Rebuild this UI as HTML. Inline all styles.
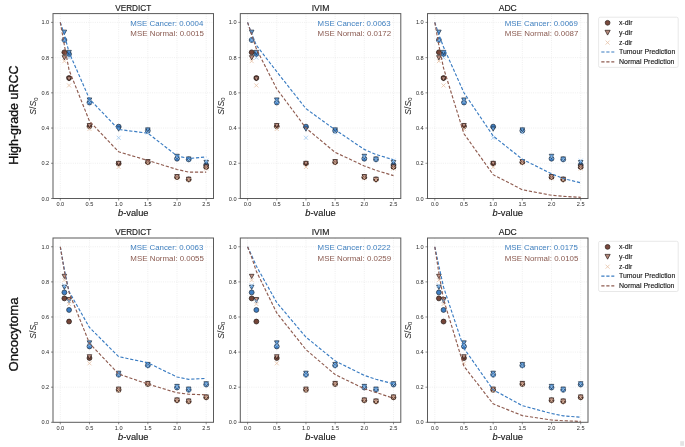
<!DOCTYPE html>
<html><head><meta charset="utf-8"><style>
html,body{margin:0;padding:0;background:#fff;}
body{width:685px;height:447px;overflow:hidden;}
svg{display:block;font-family:'Liberation Sans', sans-serif;filter:blur(0.35px);}
</style></head><body>
<svg width="685" height="447" viewBox="0 0 685 447">
<rect width="685" height="447" fill="#fff"/>
<line x1="60.30" y1="13.60" x2="60.30" y2="198.50" stroke="#e4e4e4" stroke-width="0.6" stroke-dasharray="1 1.2"/>
<line x1="89.48" y1="13.60" x2="89.48" y2="198.50" stroke="#e4e4e4" stroke-width="0.6" stroke-dasharray="1 1.2"/>
<line x1="118.66" y1="13.60" x2="118.66" y2="198.50" stroke="#e4e4e4" stroke-width="0.6" stroke-dasharray="1 1.2"/>
<line x1="147.84" y1="13.60" x2="147.84" y2="198.50" stroke="#e4e4e4" stroke-width="0.6" stroke-dasharray="1 1.2"/>
<line x1="177.02" y1="13.60" x2="177.02" y2="198.50" stroke="#e4e4e4" stroke-width="0.6" stroke-dasharray="1 1.2"/>
<line x1="206.20" y1="13.60" x2="206.20" y2="198.50" stroke="#e4e4e4" stroke-width="0.6" stroke-dasharray="1 1.2"/>
<line x1="53.00" y1="163.28" x2="213.50" y2="163.28" stroke="#e4e4e4" stroke-width="0.6" stroke-dasharray="1 1.2"/>
<line x1="53.00" y1="128.06" x2="213.50" y2="128.06" stroke="#e4e4e4" stroke-width="0.6" stroke-dasharray="1 1.2"/>
<line x1="53.00" y1="92.84" x2="213.50" y2="92.84" stroke="#e4e4e4" stroke-width="0.6" stroke-dasharray="1 1.2"/>
<line x1="53.00" y1="57.62" x2="213.50" y2="57.62" stroke="#e4e4e4" stroke-width="0.6" stroke-dasharray="1 1.2"/>
<line x1="53.00" y1="22.40" x2="213.50" y2="22.40" stroke="#e4e4e4" stroke-width="0.6" stroke-dasharray="1 1.2"/>
<circle cx="64.38" cy="40.01" r="2.45" fill="#3f7fc4" stroke="#1b2a3a" stroke-width="0.7"/>
<circle cx="64.38" cy="52.34" r="2.45" fill="#744538" stroke="#1e1210" stroke-width="0.7"/>
<polygon points="62.08,30.14 66.68,30.14 64.38,34.39" fill="#62a0e0" stroke="#1b2a3a" stroke-width="0.7"/>
<polygon points="62.08,55.67 66.68,55.67 64.38,59.92" fill="#c29486" stroke="#2a1a16" stroke-width="0.7"/>
<path d="M62.38 38.01L66.38 42.01M62.38 42.01L66.38 38.01" stroke="#9cc6f0" stroke-width="0.8" fill="none"/>
<path d="M62.38 59.15L66.38 63.15M62.38 63.15L66.38 59.15" stroke="#e6c2a6" stroke-width="0.8" fill="none"/>
<circle cx="69.05" cy="54.10" r="2.45" fill="#3f7fc4" stroke="#1b2a3a" stroke-width="0.7"/>
<circle cx="69.05" cy="78.05" r="2.45" fill="#744538" stroke="#1e1210" stroke-width="0.7"/>
<polygon points="66.75,50.39 71.35,50.39 69.05,54.64" fill="#62a0e0" stroke="#1b2a3a" stroke-width="0.7"/>
<polygon points="66.75,76.80 71.35,76.80 69.05,81.06" fill="#c29486" stroke="#2a1a16" stroke-width="0.7"/>
<path d="M67.05 55.62L71.05 59.62M67.05 59.62L71.05 55.62" stroke="#9cc6f0" stroke-width="0.8" fill="none"/>
<path d="M67.05 83.45L71.05 87.45M67.05 87.45L71.05 83.45" stroke="#e6c2a6" stroke-width="0.8" fill="none"/>
<circle cx="89.48" cy="102.53" r="2.45" fill="#3f7fc4" stroke="#1b2a3a" stroke-width="0.7"/>
<circle cx="89.48" cy="126.30" r="2.45" fill="#744538" stroke="#1e1210" stroke-width="0.7"/>
<polygon points="87.18,97.93 91.78,97.93 89.48,102.19" fill="#62a0e0" stroke="#1b2a3a" stroke-width="0.7"/>
<polygon points="87.18,123.47 91.78,123.47 89.48,127.72" fill="#c29486" stroke="#2a1a16" stroke-width="0.7"/>
<path d="M87.48 99.65L91.48 103.65M87.48 103.65L91.48 99.65" stroke="#9cc6f0" stroke-width="0.8" fill="none"/>
<path d="M87.48 126.94L91.48 130.94M87.48 130.94L91.48 126.94" stroke="#e6c2a6" stroke-width="0.8" fill="none"/>
<circle cx="118.66" cy="126.65" r="2.45" fill="#3f7fc4" stroke="#1b2a3a" stroke-width="0.7"/>
<circle cx="118.66" cy="163.63" r="2.45" fill="#744538" stroke="#1e1210" stroke-width="0.7"/>
<polygon points="116.36,126.99 120.96,126.99 118.66,131.24" fill="#62a0e0" stroke="#1b2a3a" stroke-width="0.7"/>
<polygon points="116.36,161.33 120.96,161.33 118.66,165.58" fill="#c29486" stroke="#2a1a16" stroke-width="0.7"/>
<path d="M116.66 135.75L120.66 139.75M116.66 139.75L120.66 135.75" stroke="#9cc6f0" stroke-width="0.8" fill="none"/>
<path d="M116.66 164.98L120.66 168.98M116.66 168.98L120.66 164.98" stroke="#e6c2a6" stroke-width="0.8" fill="none"/>
<circle cx="147.84" cy="130.70" r="2.45" fill="#3f7fc4" stroke="#1b2a3a" stroke-width="0.7"/>
<circle cx="147.84" cy="162.22" r="2.45" fill="#744538" stroke="#1e1210" stroke-width="0.7"/>
<polygon points="145.54,127.87 150.14,127.87 147.84,132.12" fill="#62a0e0" stroke="#1b2a3a" stroke-width="0.7"/>
<polygon points="145.54,159.56 150.14,159.56 147.84,163.82" fill="#c29486" stroke="#2a1a16" stroke-width="0.7"/>
<path d="M145.84 130.46L149.84 134.46M145.84 134.46L149.84 130.46" stroke="#9cc6f0" stroke-width="0.8" fill="none"/>
<path d="M145.84 161.28L149.84 165.28M145.84 165.28L149.84 161.28" stroke="#e6c2a6" stroke-width="0.8" fill="none"/>
<circle cx="177.02" cy="158.70" r="2.45" fill="#3f7fc4" stroke="#1b2a3a" stroke-width="0.7"/>
<circle cx="177.02" cy="177.19" r="2.45" fill="#744538" stroke="#1e1210" stroke-width="0.7"/>
<polygon points="174.72,154.28 179.32,154.28 177.02,158.54" fill="#62a0e0" stroke="#1b2a3a" stroke-width="0.7"/>
<polygon points="174.72,174.53 179.32,174.53 177.02,178.79" fill="#c29486" stroke="#2a1a16" stroke-width="0.7"/>
<path d="M175.02 155.12L179.02 159.12M175.02 159.12L179.02 155.12" stroke="#9cc6f0" stroke-width="0.8" fill="none"/>
<path d="M175.02 176.25L179.02 180.25M175.02 180.25L179.02 176.25" stroke="#e6c2a6" stroke-width="0.8" fill="none"/>
<circle cx="188.70" cy="159.41" r="2.45" fill="#3f7fc4" stroke="#1b2a3a" stroke-width="0.7"/>
<circle cx="188.70" cy="179.48" r="2.45" fill="#744538" stroke="#1e1210" stroke-width="0.7"/>
<polygon points="186.40,156.92 191.00,156.92 188.70,161.18" fill="#62a0e0" stroke="#1b2a3a" stroke-width="0.7"/>
<polygon points="186.40,177.17 191.00,177.17 188.70,181.43" fill="#c29486" stroke="#2a1a16" stroke-width="0.7"/>
<path d="M186.70 157.76L190.70 161.76M186.70 161.76L190.70 157.76" stroke="#9cc6f0" stroke-width="0.8" fill="none"/>
<path d="M186.70 178.01L190.70 182.01M186.70 182.01L190.70 178.01" stroke="#e6c2a6" stroke-width="0.8" fill="none"/>
<circle cx="206.20" cy="165.04" r="2.45" fill="#3f7fc4" stroke="#1b2a3a" stroke-width="0.7"/>
<circle cx="206.20" cy="167.16" r="2.45" fill="#744538" stroke="#1e1210" stroke-width="0.7"/>
<polygon points="203.90,160.45 208.50,160.45 206.20,164.70" fill="#62a0e0" stroke="#1b2a3a" stroke-width="0.7"/>
<polygon points="203.90,164.85 208.50,164.85 206.20,169.10" fill="#c29486" stroke="#2a1a16" stroke-width="0.7"/>
<path d="M204.20 158.64L208.20 162.64M204.20 162.64L208.20 158.64" stroke="#9cc6f0" stroke-width="0.8" fill="none"/>
<path d="M204.20 166.56L208.20 170.56M204.20 170.56L208.20 166.56" stroke="#e6c2a6" stroke-width="0.8" fill="none"/>
<polyline points="60.30,22.40 64.38,34.73 69.05,52.34 89.48,99.01 118.66,129.47 147.84,133.17 177.02,155.88 188.70,158.53 206.20,156.94" fill="none" stroke="#3a7cc2" stroke-width="1.15" stroke-dasharray="3.2 1.8"/>
<polyline points="60.30,22.40 64.38,45.30 69.05,69.95 89.48,121.19 118.66,151.83 147.84,160.46 177.02,169.44 188.70,172.09 206.20,172.09" fill="none" stroke="#8f5c50" stroke-width="1.15" stroke-dasharray="3.2 1.8"/>
<rect x="53.00" y="13.60" width="160.50" height="184.90" fill="none" stroke="#5a5a5a" stroke-width="1"/>
<line x1="60.30" y1="198.50" x2="60.30" y2="200.50" stroke="#444" stroke-width="0.6"/>
<text x="60.30" y="206.00" font-size="5.6" fill="#2a2a2a" text-anchor="middle" >0.0</text>
<line x1="89.48" y1="198.50" x2="89.48" y2="200.50" stroke="#444" stroke-width="0.6"/>
<text x="89.48" y="206.00" font-size="5.6" fill="#2a2a2a" text-anchor="middle" >0.5</text>
<line x1="118.66" y1="198.50" x2="118.66" y2="200.50" stroke="#444" stroke-width="0.6"/>
<text x="118.66" y="206.00" font-size="5.6" fill="#2a2a2a" text-anchor="middle" >1.0</text>
<line x1="147.84" y1="198.50" x2="147.84" y2="200.50" stroke="#444" stroke-width="0.6"/>
<text x="147.84" y="206.00" font-size="5.6" fill="#2a2a2a" text-anchor="middle" >1.5</text>
<line x1="177.02" y1="198.50" x2="177.02" y2="200.50" stroke="#444" stroke-width="0.6"/>
<text x="177.02" y="206.00" font-size="5.6" fill="#2a2a2a" text-anchor="middle" >2.0</text>
<line x1="206.20" y1="198.50" x2="206.20" y2="200.50" stroke="#444" stroke-width="0.6"/>
<text x="206.20" y="206.00" font-size="5.6" fill="#2a2a2a" text-anchor="middle" >2.5</text>
<line x1="51.00" y1="198.50" x2="53.00" y2="198.50" stroke="#444" stroke-width="0.6"/>
<text x="49.20" y="200.50" font-size="5.6" fill="#2a2a2a" text-anchor="end" >0.0</text>
<line x1="51.00" y1="163.28" x2="53.00" y2="163.28" stroke="#444" stroke-width="0.6"/>
<text x="49.20" y="165.28" font-size="5.6" fill="#2a2a2a" text-anchor="end" >0.2</text>
<line x1="51.00" y1="128.06" x2="53.00" y2="128.06" stroke="#444" stroke-width="0.6"/>
<text x="49.20" y="130.06" font-size="5.6" fill="#2a2a2a" text-anchor="end" >0.4</text>
<line x1="51.00" y1="92.84" x2="53.00" y2="92.84" stroke="#444" stroke-width="0.6"/>
<text x="49.20" y="94.84" font-size="5.6" fill="#2a2a2a" text-anchor="end" >0.6</text>
<line x1="51.00" y1="57.62" x2="53.00" y2="57.62" stroke="#444" stroke-width="0.6"/>
<text x="49.20" y="59.62" font-size="5.6" fill="#2a2a2a" text-anchor="end" >0.8</text>
<line x1="51.00" y1="22.40" x2="53.00" y2="22.40" stroke="#444" stroke-width="0.6"/>
<text x="49.20" y="24.40" font-size="5.6" fill="#2a2a2a" text-anchor="end" >1.0</text>
<text x="133.25" y="10.90" font-size="8.6" fill="#1a1a1a" text-anchor="middle" textLength="36.0" lengthAdjust="spacingAndGlyphs" stroke="#1a1a1a" stroke-width="0.15">VERDICT</text>
<text x="130.30" y="25.60" font-size="7.7" fill="#3e7fbf" text-anchor="start" textLength="73.0" lengthAdjust="spacingAndGlyphs" >MSE Cancer: 0.0004</text>
<text x="130.30" y="36.30" font-size="7.7" fill="#8a5a50" text-anchor="start" textLength="73.6" lengthAdjust="spacingAndGlyphs" >MSE Normal: 0.0015</text>
<text x="133.25" y="215.80" font-size="9.2" fill="#1a1a1a" stroke="#1a1a1a" stroke-width="0.15" text-anchor="middle" textLength="30.4" lengthAdjust="spacingAndGlyphs"><tspan font-style="italic">b</tspan>-value</text>
<text transform="translate(36.20,106.05) rotate(-90)" font-size="8.6" fill="#1a1a1a" text-anchor="middle"><tspan font-style="italic">S</tspan>/<tspan font-style="italic">S</tspan><tspan font-size="6" dy="1.6">0</tspan></text>
<line x1="247.60" y1="13.60" x2="247.60" y2="198.50" stroke="#e4e4e4" stroke-width="0.6" stroke-dasharray="1 1.2"/>
<line x1="276.78" y1="13.60" x2="276.78" y2="198.50" stroke="#e4e4e4" stroke-width="0.6" stroke-dasharray="1 1.2"/>
<line x1="305.96" y1="13.60" x2="305.96" y2="198.50" stroke="#e4e4e4" stroke-width="0.6" stroke-dasharray="1 1.2"/>
<line x1="335.14" y1="13.60" x2="335.14" y2="198.50" stroke="#e4e4e4" stroke-width="0.6" stroke-dasharray="1 1.2"/>
<line x1="364.32" y1="13.60" x2="364.32" y2="198.50" stroke="#e4e4e4" stroke-width="0.6" stroke-dasharray="1 1.2"/>
<line x1="393.50" y1="13.60" x2="393.50" y2="198.50" stroke="#e4e4e4" stroke-width="0.6" stroke-dasharray="1 1.2"/>
<line x1="240.30" y1="163.28" x2="400.80" y2="163.28" stroke="#e4e4e4" stroke-width="0.6" stroke-dasharray="1 1.2"/>
<line x1="240.30" y1="128.06" x2="400.80" y2="128.06" stroke="#e4e4e4" stroke-width="0.6" stroke-dasharray="1 1.2"/>
<line x1="240.30" y1="92.84" x2="400.80" y2="92.84" stroke="#e4e4e4" stroke-width="0.6" stroke-dasharray="1 1.2"/>
<line x1="240.30" y1="57.62" x2="400.80" y2="57.62" stroke="#e4e4e4" stroke-width="0.6" stroke-dasharray="1 1.2"/>
<line x1="240.30" y1="22.40" x2="400.80" y2="22.40" stroke="#e4e4e4" stroke-width="0.6" stroke-dasharray="1 1.2"/>
<circle cx="251.68" cy="40.01" r="2.45" fill="#3f7fc4" stroke="#1b2a3a" stroke-width="0.7"/>
<circle cx="251.68" cy="52.34" r="2.45" fill="#744538" stroke="#1e1210" stroke-width="0.7"/>
<polygon points="249.38,30.14 253.98,30.14 251.68,34.39" fill="#62a0e0" stroke="#1b2a3a" stroke-width="0.7"/>
<polygon points="249.38,55.67 253.98,55.67 251.68,59.92" fill="#c29486" stroke="#2a1a16" stroke-width="0.7"/>
<path d="M249.68 38.01L253.68 42.01M249.68 42.01L253.68 38.01" stroke="#9cc6f0" stroke-width="0.8" fill="none"/>
<path d="M249.68 59.15L253.68 63.15M249.68 63.15L253.68 59.15" stroke="#e6c2a6" stroke-width="0.8" fill="none"/>
<circle cx="256.35" cy="54.10" r="2.45" fill="#3f7fc4" stroke="#1b2a3a" stroke-width="0.7"/>
<circle cx="256.35" cy="78.05" r="2.45" fill="#744538" stroke="#1e1210" stroke-width="0.7"/>
<polygon points="254.05,50.39 258.65,50.39 256.35,54.64" fill="#62a0e0" stroke="#1b2a3a" stroke-width="0.7"/>
<polygon points="254.05,76.80 258.65,76.80 256.35,81.06" fill="#c29486" stroke="#2a1a16" stroke-width="0.7"/>
<path d="M254.35 55.62L258.35 59.62M254.35 59.62L258.35 55.62" stroke="#9cc6f0" stroke-width="0.8" fill="none"/>
<path d="M254.35 83.45L258.35 87.45M254.35 87.45L258.35 83.45" stroke="#e6c2a6" stroke-width="0.8" fill="none"/>
<circle cx="276.78" cy="102.53" r="2.45" fill="#3f7fc4" stroke="#1b2a3a" stroke-width="0.7"/>
<circle cx="276.78" cy="126.30" r="2.45" fill="#744538" stroke="#1e1210" stroke-width="0.7"/>
<polygon points="274.48,97.93 279.08,97.93 276.78,102.19" fill="#62a0e0" stroke="#1b2a3a" stroke-width="0.7"/>
<polygon points="274.48,123.47 279.08,123.47 276.78,127.72" fill="#c29486" stroke="#2a1a16" stroke-width="0.7"/>
<path d="M274.78 99.65L278.78 103.65M274.78 103.65L278.78 99.65" stroke="#9cc6f0" stroke-width="0.8" fill="none"/>
<path d="M274.78 126.94L278.78 130.94M274.78 130.94L278.78 126.94" stroke="#e6c2a6" stroke-width="0.8" fill="none"/>
<circle cx="305.96" cy="126.65" r="2.45" fill="#3f7fc4" stroke="#1b2a3a" stroke-width="0.7"/>
<circle cx="305.96" cy="163.63" r="2.45" fill="#744538" stroke="#1e1210" stroke-width="0.7"/>
<polygon points="303.66,126.99 308.26,126.99 305.96,131.24" fill="#62a0e0" stroke="#1b2a3a" stroke-width="0.7"/>
<polygon points="303.66,161.33 308.26,161.33 305.96,165.58" fill="#c29486" stroke="#2a1a16" stroke-width="0.7"/>
<path d="M303.96 135.75L307.96 139.75M303.96 139.75L307.96 135.75" stroke="#9cc6f0" stroke-width="0.8" fill="none"/>
<path d="M303.96 164.98L307.96 168.98M303.96 168.98L307.96 164.98" stroke="#e6c2a6" stroke-width="0.8" fill="none"/>
<circle cx="335.14" cy="130.70" r="2.45" fill="#3f7fc4" stroke="#1b2a3a" stroke-width="0.7"/>
<circle cx="335.14" cy="162.22" r="2.45" fill="#744538" stroke="#1e1210" stroke-width="0.7"/>
<polygon points="332.84,127.87 337.44,127.87 335.14,132.12" fill="#62a0e0" stroke="#1b2a3a" stroke-width="0.7"/>
<polygon points="332.84,159.56 337.44,159.56 335.14,163.82" fill="#c29486" stroke="#2a1a16" stroke-width="0.7"/>
<path d="M333.14 130.46L337.14 134.46M333.14 134.46L337.14 130.46" stroke="#9cc6f0" stroke-width="0.8" fill="none"/>
<path d="M333.14 161.28L337.14 165.28M333.14 165.28L337.14 161.28" stroke="#e6c2a6" stroke-width="0.8" fill="none"/>
<circle cx="364.32" cy="158.70" r="2.45" fill="#3f7fc4" stroke="#1b2a3a" stroke-width="0.7"/>
<circle cx="364.32" cy="177.19" r="2.45" fill="#744538" stroke="#1e1210" stroke-width="0.7"/>
<polygon points="362.02,154.28 366.62,154.28 364.32,158.54" fill="#62a0e0" stroke="#1b2a3a" stroke-width="0.7"/>
<polygon points="362.02,174.53 366.62,174.53 364.32,178.79" fill="#c29486" stroke="#2a1a16" stroke-width="0.7"/>
<path d="M362.32 155.12L366.32 159.12M362.32 159.12L366.32 155.12" stroke="#9cc6f0" stroke-width="0.8" fill="none"/>
<path d="M362.32 176.25L366.32 180.25M362.32 180.25L366.32 176.25" stroke="#e6c2a6" stroke-width="0.8" fill="none"/>
<circle cx="376.00" cy="159.41" r="2.45" fill="#3f7fc4" stroke="#1b2a3a" stroke-width="0.7"/>
<circle cx="376.00" cy="179.48" r="2.45" fill="#744538" stroke="#1e1210" stroke-width="0.7"/>
<polygon points="373.70,156.92 378.30,156.92 376.00,161.18" fill="#62a0e0" stroke="#1b2a3a" stroke-width="0.7"/>
<polygon points="373.70,177.17 378.30,177.17 376.00,181.43" fill="#c29486" stroke="#2a1a16" stroke-width="0.7"/>
<path d="M374.00 157.76L378.00 161.76M374.00 161.76L378.00 157.76" stroke="#9cc6f0" stroke-width="0.8" fill="none"/>
<path d="M374.00 178.01L378.00 182.01M374.00 182.01L378.00 178.01" stroke="#e6c2a6" stroke-width="0.8" fill="none"/>
<circle cx="393.50" cy="165.04" r="2.45" fill="#3f7fc4" stroke="#1b2a3a" stroke-width="0.7"/>
<circle cx="393.50" cy="167.16" r="2.45" fill="#744538" stroke="#1e1210" stroke-width="0.7"/>
<polygon points="391.20,160.45 395.80,160.45 393.50,164.70" fill="#62a0e0" stroke="#1b2a3a" stroke-width="0.7"/>
<polygon points="391.20,164.85 395.80,164.85 393.50,169.10" fill="#c29486" stroke="#2a1a16" stroke-width="0.7"/>
<path d="M391.50 158.64L395.50 162.64M391.50 162.64L395.50 158.64" stroke="#9cc6f0" stroke-width="0.8" fill="none"/>
<path d="M391.50 166.56L395.50 170.56M391.50 170.56L395.50 166.56" stroke="#e6c2a6" stroke-width="0.8" fill="none"/>
<polyline points="247.60,22.40 251.68,33.85 256.35,45.30 276.78,71.71 305.96,108.69 335.14,129.82 364.32,149.37 376.00,154.48 393.50,159.76" fill="none" stroke="#3a7cc2" stroke-width="1.15" stroke-dasharray="3.2 1.8"/>
<polyline points="247.60,22.40 251.68,34.73 256.35,48.82 276.78,88.97 305.96,128.06 335.14,152.36 364.32,165.92 376.00,170.32 393.50,175.61" fill="none" stroke="#8f5c50" stroke-width="1.15" stroke-dasharray="3.2 1.8"/>
<rect x="240.30" y="13.60" width="160.50" height="184.90" fill="none" stroke="#5a5a5a" stroke-width="1"/>
<line x1="247.60" y1="198.50" x2="247.60" y2="200.50" stroke="#444" stroke-width="0.6"/>
<text x="247.60" y="206.00" font-size="5.6" fill="#2a2a2a" text-anchor="middle" >0.0</text>
<line x1="276.78" y1="198.50" x2="276.78" y2="200.50" stroke="#444" stroke-width="0.6"/>
<text x="276.78" y="206.00" font-size="5.6" fill="#2a2a2a" text-anchor="middle" >0.5</text>
<line x1="305.96" y1="198.50" x2="305.96" y2="200.50" stroke="#444" stroke-width="0.6"/>
<text x="305.96" y="206.00" font-size="5.6" fill="#2a2a2a" text-anchor="middle" >1.0</text>
<line x1="335.14" y1="198.50" x2="335.14" y2="200.50" stroke="#444" stroke-width="0.6"/>
<text x="335.14" y="206.00" font-size="5.6" fill="#2a2a2a" text-anchor="middle" >1.5</text>
<line x1="364.32" y1="198.50" x2="364.32" y2="200.50" stroke="#444" stroke-width="0.6"/>
<text x="364.32" y="206.00" font-size="5.6" fill="#2a2a2a" text-anchor="middle" >2.0</text>
<line x1="393.50" y1="198.50" x2="393.50" y2="200.50" stroke="#444" stroke-width="0.6"/>
<text x="393.50" y="206.00" font-size="5.6" fill="#2a2a2a" text-anchor="middle" >2.5</text>
<line x1="238.30" y1="198.50" x2="240.30" y2="198.50" stroke="#444" stroke-width="0.6"/>
<text x="236.50" y="200.50" font-size="5.6" fill="#2a2a2a" text-anchor="end" >0.0</text>
<line x1="238.30" y1="163.28" x2="240.30" y2="163.28" stroke="#444" stroke-width="0.6"/>
<text x="236.50" y="165.28" font-size="5.6" fill="#2a2a2a" text-anchor="end" >0.2</text>
<line x1="238.30" y1="128.06" x2="240.30" y2="128.06" stroke="#444" stroke-width="0.6"/>
<text x="236.50" y="130.06" font-size="5.6" fill="#2a2a2a" text-anchor="end" >0.4</text>
<line x1="238.30" y1="92.84" x2="240.30" y2="92.84" stroke="#444" stroke-width="0.6"/>
<text x="236.50" y="94.84" font-size="5.6" fill="#2a2a2a" text-anchor="end" >0.6</text>
<line x1="238.30" y1="57.62" x2="240.30" y2="57.62" stroke="#444" stroke-width="0.6"/>
<text x="236.50" y="59.62" font-size="5.6" fill="#2a2a2a" text-anchor="end" >0.8</text>
<line x1="238.30" y1="22.40" x2="240.30" y2="22.40" stroke="#444" stroke-width="0.6"/>
<text x="236.50" y="24.40" font-size="5.6" fill="#2a2a2a" text-anchor="end" >1.0</text>
<text x="320.55" y="10.90" font-size="8.6" fill="#1a1a1a" text-anchor="middle" stroke="#1a1a1a" stroke-width="0.15">IVIM</text>
<text x="317.60" y="25.60" font-size="7.7" fill="#3e7fbf" text-anchor="start" textLength="73.0" lengthAdjust="spacingAndGlyphs" >MSE Cancer: 0.0063</text>
<text x="317.60" y="36.30" font-size="7.7" fill="#8a5a50" text-anchor="start" textLength="73.6" lengthAdjust="spacingAndGlyphs" >MSE Normal: 0.0172</text>
<text x="320.55" y="215.80" font-size="9.2" fill="#1a1a1a" stroke="#1a1a1a" stroke-width="0.15" text-anchor="middle" textLength="30.4" lengthAdjust="spacingAndGlyphs"><tspan font-style="italic">b</tspan>-value</text>
<text transform="translate(223.50,106.05) rotate(-90)" font-size="8.6" fill="#1a1a1a" text-anchor="middle"><tspan font-style="italic">S</tspan>/<tspan font-style="italic">S</tspan><tspan font-size="6" dy="1.6">0</tspan></text>
<line x1="434.80" y1="13.60" x2="434.80" y2="198.50" stroke="#e4e4e4" stroke-width="0.6" stroke-dasharray="1 1.2"/>
<line x1="463.98" y1="13.60" x2="463.98" y2="198.50" stroke="#e4e4e4" stroke-width="0.6" stroke-dasharray="1 1.2"/>
<line x1="493.16" y1="13.60" x2="493.16" y2="198.50" stroke="#e4e4e4" stroke-width="0.6" stroke-dasharray="1 1.2"/>
<line x1="522.34" y1="13.60" x2="522.34" y2="198.50" stroke="#e4e4e4" stroke-width="0.6" stroke-dasharray="1 1.2"/>
<line x1="551.52" y1="13.60" x2="551.52" y2="198.50" stroke="#e4e4e4" stroke-width="0.6" stroke-dasharray="1 1.2"/>
<line x1="580.70" y1="13.60" x2="580.70" y2="198.50" stroke="#e4e4e4" stroke-width="0.6" stroke-dasharray="1 1.2"/>
<line x1="427.50" y1="163.28" x2="588.00" y2="163.28" stroke="#e4e4e4" stroke-width="0.6" stroke-dasharray="1 1.2"/>
<line x1="427.50" y1="128.06" x2="588.00" y2="128.06" stroke="#e4e4e4" stroke-width="0.6" stroke-dasharray="1 1.2"/>
<line x1="427.50" y1="92.84" x2="588.00" y2="92.84" stroke="#e4e4e4" stroke-width="0.6" stroke-dasharray="1 1.2"/>
<line x1="427.50" y1="57.62" x2="588.00" y2="57.62" stroke="#e4e4e4" stroke-width="0.6" stroke-dasharray="1 1.2"/>
<line x1="427.50" y1="22.40" x2="588.00" y2="22.40" stroke="#e4e4e4" stroke-width="0.6" stroke-dasharray="1 1.2"/>
<circle cx="438.88" cy="40.01" r="2.45" fill="#3f7fc4" stroke="#1b2a3a" stroke-width="0.7"/>
<circle cx="438.88" cy="52.34" r="2.45" fill="#744538" stroke="#1e1210" stroke-width="0.7"/>
<polygon points="436.58,30.14 441.18,30.14 438.88,34.39" fill="#62a0e0" stroke="#1b2a3a" stroke-width="0.7"/>
<polygon points="436.58,55.67 441.18,55.67 438.88,59.92" fill="#c29486" stroke="#2a1a16" stroke-width="0.7"/>
<path d="M436.88 38.01L440.88 42.01M436.88 42.01L440.88 38.01" stroke="#9cc6f0" stroke-width="0.8" fill="none"/>
<path d="M436.88 59.15L440.88 63.15M436.88 63.15L440.88 59.15" stroke="#e6c2a6" stroke-width="0.8" fill="none"/>
<circle cx="443.55" cy="54.10" r="2.45" fill="#3f7fc4" stroke="#1b2a3a" stroke-width="0.7"/>
<circle cx="443.55" cy="78.05" r="2.45" fill="#744538" stroke="#1e1210" stroke-width="0.7"/>
<polygon points="441.25,50.39 445.85,50.39 443.55,54.64" fill="#62a0e0" stroke="#1b2a3a" stroke-width="0.7"/>
<polygon points="441.25,76.80 445.85,76.80 443.55,81.06" fill="#c29486" stroke="#2a1a16" stroke-width="0.7"/>
<path d="M441.55 55.62L445.55 59.62M441.55 59.62L445.55 55.62" stroke="#9cc6f0" stroke-width="0.8" fill="none"/>
<path d="M441.55 83.45L445.55 87.45M441.55 87.45L445.55 83.45" stroke="#e6c2a6" stroke-width="0.8" fill="none"/>
<circle cx="463.98" cy="102.53" r="2.45" fill="#3f7fc4" stroke="#1b2a3a" stroke-width="0.7"/>
<circle cx="463.98" cy="126.30" r="2.45" fill="#744538" stroke="#1e1210" stroke-width="0.7"/>
<polygon points="461.68,97.93 466.28,97.93 463.98,102.19" fill="#62a0e0" stroke="#1b2a3a" stroke-width="0.7"/>
<polygon points="461.68,123.47 466.28,123.47 463.98,127.72" fill="#c29486" stroke="#2a1a16" stroke-width="0.7"/>
<path d="M461.98 99.65L465.98 103.65M461.98 103.65L465.98 99.65" stroke="#9cc6f0" stroke-width="0.8" fill="none"/>
<path d="M461.98 126.94L465.98 130.94M461.98 130.94L465.98 126.94" stroke="#e6c2a6" stroke-width="0.8" fill="none"/>
<circle cx="493.16" cy="126.65" r="2.45" fill="#3f7fc4" stroke="#1b2a3a" stroke-width="0.7"/>
<circle cx="493.16" cy="163.63" r="2.45" fill="#744538" stroke="#1e1210" stroke-width="0.7"/>
<polygon points="490.86,126.99 495.46,126.99 493.16,131.24" fill="#62a0e0" stroke="#1b2a3a" stroke-width="0.7"/>
<polygon points="490.86,161.33 495.46,161.33 493.16,165.58" fill="#c29486" stroke="#2a1a16" stroke-width="0.7"/>
<path d="M491.16 135.75L495.16 139.75M491.16 139.75L495.16 135.75" stroke="#9cc6f0" stroke-width="0.8" fill="none"/>
<path d="M491.16 164.98L495.16 168.98M491.16 168.98L495.16 164.98" stroke="#e6c2a6" stroke-width="0.8" fill="none"/>
<circle cx="522.34" cy="130.70" r="2.45" fill="#3f7fc4" stroke="#1b2a3a" stroke-width="0.7"/>
<circle cx="522.34" cy="162.22" r="2.45" fill="#744538" stroke="#1e1210" stroke-width="0.7"/>
<polygon points="520.04,127.87 524.64,127.87 522.34,132.12" fill="#62a0e0" stroke="#1b2a3a" stroke-width="0.7"/>
<polygon points="520.04,159.56 524.64,159.56 522.34,163.82" fill="#c29486" stroke="#2a1a16" stroke-width="0.7"/>
<path d="M520.34 130.46L524.34 134.46M520.34 134.46L524.34 130.46" stroke="#9cc6f0" stroke-width="0.8" fill="none"/>
<path d="M520.34 161.28L524.34 165.28M520.34 165.28L524.34 161.28" stroke="#e6c2a6" stroke-width="0.8" fill="none"/>
<circle cx="551.52" cy="158.70" r="2.45" fill="#3f7fc4" stroke="#1b2a3a" stroke-width="0.7"/>
<circle cx="551.52" cy="177.19" r="2.45" fill="#744538" stroke="#1e1210" stroke-width="0.7"/>
<polygon points="549.22,154.28 553.82,154.28 551.52,158.54" fill="#62a0e0" stroke="#1b2a3a" stroke-width="0.7"/>
<polygon points="549.22,174.53 553.82,174.53 551.52,178.79" fill="#c29486" stroke="#2a1a16" stroke-width="0.7"/>
<path d="M549.52 155.12L553.52 159.12M549.52 159.12L553.52 155.12" stroke="#9cc6f0" stroke-width="0.8" fill="none"/>
<path d="M549.52 176.25L553.52 180.25M549.52 180.25L553.52 176.25" stroke="#e6c2a6" stroke-width="0.8" fill="none"/>
<circle cx="563.20" cy="159.41" r="2.45" fill="#3f7fc4" stroke="#1b2a3a" stroke-width="0.7"/>
<circle cx="563.20" cy="179.48" r="2.45" fill="#744538" stroke="#1e1210" stroke-width="0.7"/>
<polygon points="560.90,156.92 565.50,156.92 563.20,161.18" fill="#62a0e0" stroke="#1b2a3a" stroke-width="0.7"/>
<polygon points="560.90,177.17 565.50,177.17 563.20,181.43" fill="#c29486" stroke="#2a1a16" stroke-width="0.7"/>
<path d="M561.20 157.76L565.20 161.76M561.20 161.76L565.20 157.76" stroke="#9cc6f0" stroke-width="0.8" fill="none"/>
<path d="M561.20 178.01L565.20 182.01M561.20 182.01L565.20 178.01" stroke="#e6c2a6" stroke-width="0.8" fill="none"/>
<circle cx="580.70" cy="165.04" r="2.45" fill="#3f7fc4" stroke="#1b2a3a" stroke-width="0.7"/>
<circle cx="580.70" cy="167.16" r="2.45" fill="#744538" stroke="#1e1210" stroke-width="0.7"/>
<polygon points="578.40,160.45 583.00,160.45 580.70,164.70" fill="#62a0e0" stroke="#1b2a3a" stroke-width="0.7"/>
<polygon points="578.40,164.85 583.00,164.85 580.70,169.10" fill="#c29486" stroke="#2a1a16" stroke-width="0.7"/>
<path d="M578.70 158.64L582.70 162.64M578.70 162.64L582.70 158.64" stroke="#9cc6f0" stroke-width="0.8" fill="none"/>
<path d="M578.70 166.56L582.70 170.56M578.70 170.56L582.70 166.56" stroke="#e6c2a6" stroke-width="0.8" fill="none"/>
<polyline points="434.80,22.40 438.88,34.73 443.55,47.06 463.98,92.84 493.16,135.99 522.34,159.23 551.52,173.85 563.20,178.43 580.70,182.83" fill="none" stroke="#3a7cc2" stroke-width="1.15" stroke-dasharray="3.2 1.8"/>
<polyline points="434.80,22.40 438.88,45.41 443.55,68.05 463.98,133.72 493.16,174.67 522.34,189.73 551.52,195.27 563.20,196.34 580.70,197.31" fill="none" stroke="#8f5c50" stroke-width="1.15" stroke-dasharray="3.2 1.8"/>
<rect x="427.50" y="13.60" width="160.50" height="184.90" fill="none" stroke="#5a5a5a" stroke-width="1"/>
<line x1="434.80" y1="198.50" x2="434.80" y2="200.50" stroke="#444" stroke-width="0.6"/>
<text x="434.80" y="206.00" font-size="5.6" fill="#2a2a2a" text-anchor="middle" >0.0</text>
<line x1="463.98" y1="198.50" x2="463.98" y2="200.50" stroke="#444" stroke-width="0.6"/>
<text x="463.98" y="206.00" font-size="5.6" fill="#2a2a2a" text-anchor="middle" >0.5</text>
<line x1="493.16" y1="198.50" x2="493.16" y2="200.50" stroke="#444" stroke-width="0.6"/>
<text x="493.16" y="206.00" font-size="5.6" fill="#2a2a2a" text-anchor="middle" >1.0</text>
<line x1="522.34" y1="198.50" x2="522.34" y2="200.50" stroke="#444" stroke-width="0.6"/>
<text x="522.34" y="206.00" font-size="5.6" fill="#2a2a2a" text-anchor="middle" >1.5</text>
<line x1="551.52" y1="198.50" x2="551.52" y2="200.50" stroke="#444" stroke-width="0.6"/>
<text x="551.52" y="206.00" font-size="5.6" fill="#2a2a2a" text-anchor="middle" >2.0</text>
<line x1="580.70" y1="198.50" x2="580.70" y2="200.50" stroke="#444" stroke-width="0.6"/>
<text x="580.70" y="206.00" font-size="5.6" fill="#2a2a2a" text-anchor="middle" >2.5</text>
<line x1="425.50" y1="198.50" x2="427.50" y2="198.50" stroke="#444" stroke-width="0.6"/>
<text x="423.70" y="200.50" font-size="5.6" fill="#2a2a2a" text-anchor="end" >0.0</text>
<line x1="425.50" y1="163.28" x2="427.50" y2="163.28" stroke="#444" stroke-width="0.6"/>
<text x="423.70" y="165.28" font-size="5.6" fill="#2a2a2a" text-anchor="end" >0.2</text>
<line x1="425.50" y1="128.06" x2="427.50" y2="128.06" stroke="#444" stroke-width="0.6"/>
<text x="423.70" y="130.06" font-size="5.6" fill="#2a2a2a" text-anchor="end" >0.4</text>
<line x1="425.50" y1="92.84" x2="427.50" y2="92.84" stroke="#444" stroke-width="0.6"/>
<text x="423.70" y="94.84" font-size="5.6" fill="#2a2a2a" text-anchor="end" >0.6</text>
<line x1="425.50" y1="57.62" x2="427.50" y2="57.62" stroke="#444" stroke-width="0.6"/>
<text x="423.70" y="59.62" font-size="5.6" fill="#2a2a2a" text-anchor="end" >0.8</text>
<line x1="425.50" y1="22.40" x2="427.50" y2="22.40" stroke="#444" stroke-width="0.6"/>
<text x="423.70" y="24.40" font-size="5.6" fill="#2a2a2a" text-anchor="end" >1.0</text>
<text x="507.75" y="10.90" font-size="8.6" fill="#1a1a1a" text-anchor="middle" stroke="#1a1a1a" stroke-width="0.15">ADC</text>
<text x="504.80" y="25.60" font-size="7.7" fill="#3e7fbf" text-anchor="start" textLength="73.0" lengthAdjust="spacingAndGlyphs" >MSE Cancer: 0.0069</text>
<text x="504.80" y="36.30" font-size="7.7" fill="#8a5a50" text-anchor="start" textLength="73.6" lengthAdjust="spacingAndGlyphs" >MSE Normal: 0.0087</text>
<text x="507.75" y="215.80" font-size="9.2" fill="#1a1a1a" stroke="#1a1a1a" stroke-width="0.15" text-anchor="middle" textLength="30.4" lengthAdjust="spacingAndGlyphs"><tspan font-style="italic">b</tspan>-value</text>
<text transform="translate(410.70,106.05) rotate(-90)" font-size="8.6" fill="#1a1a1a" text-anchor="middle"><tspan font-style="italic">S</tspan>/<tspan font-style="italic">S</tspan><tspan font-size="6" dy="1.6">0</tspan></text>
<rect x="598.6" y="17.20" width="79.6" height="50.20" rx="1.6" fill="#fff" stroke="#e2e2e2" stroke-width="0.8"/>
<circle cx="607.60" cy="22.80" r="2.4" fill="#7a4a3e" stroke="#2a1a16" stroke-width="0.7"/>
<polygon points="605.00,30.29 610.20,30.29 607.60,35.10" fill="#b58a7c" stroke="#2a1a16" stroke-width="0.7"/>
<path d="M605.60 40.60L609.60 44.60M605.60 44.60L609.60 40.60" stroke="#e6c2a6" stroke-width="0.8" fill="none"/>
<line x1="601.3" y1="52.00" x2="614.3" y2="52.00" stroke="#3a7cc2" stroke-width="1.15" stroke-dasharray="3.2 1.8"/>
<line x1="601.3" y1="61.80" x2="614.3" y2="61.80" stroke="#8f5c50" stroke-width="1.15" stroke-dasharray="3.2 1.8"/>
<text x="619.00" y="25.10" font-size="7.6" fill="#111" text-anchor="start" textLength="13.6" lengthAdjust="spacingAndGlyphs" stroke="#111" stroke-width="0.12">x-dir</text>
<text x="619.00" y="34.80" font-size="7.6" fill="#111" text-anchor="start" textLength="13.6" lengthAdjust="spacingAndGlyphs" stroke="#111" stroke-width="0.12">y-dir</text>
<text x="619.00" y="44.90" font-size="7.6" fill="#111" text-anchor="start" textLength="13.2" lengthAdjust="spacingAndGlyphs" stroke="#111" stroke-width="0.12">z-dir</text>
<text x="619.00" y="54.30" font-size="7.6" fill="#111" text-anchor="start" textLength="56.3" lengthAdjust="spacingAndGlyphs" stroke="#111" stroke-width="0.12">Tumour Prediction</text>
<text x="619.00" y="64.10" font-size="7.6" fill="#111" text-anchor="start" textLength="55.5" lengthAdjust="spacingAndGlyphs" stroke="#111" stroke-width="0.12">Normal Prediction</text>
<line x1="60.30" y1="238.00" x2="60.30" y2="422.30" stroke="#e4e4e4" stroke-width="0.6" stroke-dasharray="1 1.2"/>
<line x1="89.48" y1="238.00" x2="89.48" y2="422.30" stroke="#e4e4e4" stroke-width="0.6" stroke-dasharray="1 1.2"/>
<line x1="118.66" y1="238.00" x2="118.66" y2="422.30" stroke="#e4e4e4" stroke-width="0.6" stroke-dasharray="1 1.2"/>
<line x1="147.84" y1="238.00" x2="147.84" y2="422.30" stroke="#e4e4e4" stroke-width="0.6" stroke-dasharray="1 1.2"/>
<line x1="177.02" y1="238.00" x2="177.02" y2="422.30" stroke="#e4e4e4" stroke-width="0.6" stroke-dasharray="1 1.2"/>
<line x1="206.20" y1="238.00" x2="206.20" y2="422.30" stroke="#e4e4e4" stroke-width="0.6" stroke-dasharray="1 1.2"/>
<line x1="53.00" y1="387.20" x2="213.50" y2="387.20" stroke="#e4e4e4" stroke-width="0.6" stroke-dasharray="1 1.2"/>
<line x1="53.00" y1="352.09" x2="213.50" y2="352.09" stroke="#e4e4e4" stroke-width="0.6" stroke-dasharray="1 1.2"/>
<line x1="53.00" y1="316.99" x2="213.50" y2="316.99" stroke="#e4e4e4" stroke-width="0.6" stroke-dasharray="1 1.2"/>
<line x1="53.00" y1="281.88" x2="213.50" y2="281.88" stroke="#e4e4e4" stroke-width="0.6" stroke-dasharray="1 1.2"/>
<line x1="53.00" y1="246.78" x2="213.50" y2="246.78" stroke="#e4e4e4" stroke-width="0.6" stroke-dasharray="1 1.2"/>
<circle cx="64.38" cy="292.41" r="2.45" fill="#3f7fc4" stroke="#1b2a3a" stroke-width="0.7"/>
<circle cx="64.38" cy="298.38" r="2.45" fill="#744538" stroke="#1e1210" stroke-width="0.7"/>
<polygon points="62.08,285.19 66.68,285.19 64.38,289.45" fill="#62a0e0" stroke="#1b2a3a" stroke-width="0.7"/>
<polygon points="62.08,274.31 66.68,274.31 64.38,278.56" fill="#c29486" stroke="#2a1a16" stroke-width="0.7"/>
<path d="M62.38 283.39L66.38 287.39M62.38 287.39L66.38 283.39" stroke="#9cc6f0" stroke-width="0.8" fill="none"/>
<path d="M62.38 278.13L66.38 282.13M62.38 282.13L66.38 278.13" stroke="#e6c2a6" stroke-width="0.8" fill="none"/>
<circle cx="69.05" cy="309.96" r="2.45" fill="#3f7fc4" stroke="#1b2a3a" stroke-width="0.7"/>
<circle cx="69.05" cy="321.55" r="2.45" fill="#744538" stroke="#1e1210" stroke-width="0.7"/>
<polygon points="66.75,298.36 71.35,298.36 69.05,302.61" fill="#62a0e0" stroke="#1b2a3a" stroke-width="0.7"/>
<polygon points="66.75,297.48 71.35,297.48 69.05,301.73" fill="#c29486" stroke="#2a1a16" stroke-width="0.7"/>
<path d="M67.05 299.19L71.05 303.19M67.05 303.19L71.05 299.19" stroke="#9cc6f0" stroke-width="0.8" fill="none"/>
<path d="M67.05 302.00L71.05 306.00M67.05 306.00L71.05 302.00" stroke="#e6c2a6" stroke-width="0.8" fill="none"/>
<circle cx="89.48" cy="346.47" r="2.45" fill="#3f7fc4" stroke="#1b2a3a" stroke-width="0.7"/>
<circle cx="89.48" cy="358.06" r="2.45" fill="#744538" stroke="#1e1210" stroke-width="0.7"/>
<polygon points="87.18,340.83 91.78,340.83 89.48,345.09" fill="#62a0e0" stroke="#1b2a3a" stroke-width="0.7"/>
<polygon points="87.18,354.70 91.78,354.70 89.48,358.95" fill="#c29486" stroke="#2a1a16" stroke-width="0.7"/>
<path d="M87.48 343.07L91.48 347.07M87.48 347.07L91.48 343.07" stroke="#9cc6f0" stroke-width="0.8" fill="none"/>
<path d="M87.48 361.32L91.48 365.32M87.48 365.32L91.48 361.32" stroke="#e6c2a6" stroke-width="0.8" fill="none"/>
<circle cx="118.66" cy="374.73" r="2.45" fill="#3f7fc4" stroke="#1b2a3a" stroke-width="0.7"/>
<circle cx="118.66" cy="389.83" r="2.45" fill="#744538" stroke="#1e1210" stroke-width="0.7"/>
<polygon points="116.36,371.20 120.96,371.20 118.66,375.45" fill="#62a0e0" stroke="#1b2a3a" stroke-width="0.7"/>
<polygon points="116.36,387.00 120.96,387.00 118.66,391.25" fill="#c29486" stroke="#2a1a16" stroke-width="0.7"/>
<path d="M116.66 372.91L120.66 376.91M116.66 376.91L120.66 372.91" stroke="#9cc6f0" stroke-width="0.8" fill="none"/>
<path d="M116.66 388.71L120.66 392.71M116.66 392.71L120.66 388.71" stroke="#e6c2a6" stroke-width="0.8" fill="none"/>
<circle cx="147.84" cy="365.43" r="2.45" fill="#3f7fc4" stroke="#1b2a3a" stroke-width="0.7"/>
<circle cx="147.84" cy="384.04" r="2.45" fill="#744538" stroke="#1e1210" stroke-width="0.7"/>
<polygon points="145.54,362.42 150.14,362.42 147.84,366.68" fill="#62a0e0" stroke="#1b2a3a" stroke-width="0.7"/>
<polygon points="145.54,381.38 150.14,381.38 147.84,385.63" fill="#c29486" stroke="#2a1a16" stroke-width="0.7"/>
<path d="M145.84 364.13L149.84 368.13M145.84 368.13L149.84 364.13" stroke="#9cc6f0" stroke-width="0.8" fill="none"/>
<path d="M145.84 382.56L149.84 386.56M145.84 386.56L149.84 382.56" stroke="#e6c2a6" stroke-width="0.8" fill="none"/>
<circle cx="177.02" cy="387.55" r="2.45" fill="#3f7fc4" stroke="#1b2a3a" stroke-width="0.7"/>
<circle cx="177.02" cy="400.36" r="2.45" fill="#744538" stroke="#1e1210" stroke-width="0.7"/>
<polygon points="174.72,384.36 179.32,384.36 177.02,388.62" fill="#62a0e0" stroke="#1b2a3a" stroke-width="0.7"/>
<polygon points="174.72,397.88 179.32,397.88 177.02,402.13" fill="#c29486" stroke="#2a1a16" stroke-width="0.7"/>
<path d="M175.02 385.20L179.02 389.20M175.02 389.20L179.02 385.20" stroke="#9cc6f0" stroke-width="0.8" fill="none"/>
<path d="M175.02 398.89L179.02 402.89M175.02 402.89L179.02 398.89" stroke="#e6c2a6" stroke-width="0.8" fill="none"/>
<circle cx="188.70" cy="389.83" r="2.45" fill="#3f7fc4" stroke="#1b2a3a" stroke-width="0.7"/>
<circle cx="188.70" cy="401.41" r="2.45" fill="#744538" stroke="#1e1210" stroke-width="0.7"/>
<polygon points="186.40,387.00 191.00,387.00 188.70,391.25" fill="#62a0e0" stroke="#1b2a3a" stroke-width="0.7"/>
<polygon points="186.40,398.93 191.00,398.93 188.70,403.19" fill="#c29486" stroke="#2a1a16" stroke-width="0.7"/>
<path d="M186.70 387.83L190.70 391.83M186.70 391.83L190.70 387.83" stroke="#9cc6f0" stroke-width="0.8" fill="none"/>
<path d="M186.70 399.94L190.70 403.94M186.70 403.94L190.70 399.94" stroke="#e6c2a6" stroke-width="0.8" fill="none"/>
<circle cx="206.20" cy="384.56" r="2.45" fill="#3f7fc4" stroke="#1b2a3a" stroke-width="0.7"/>
<circle cx="206.20" cy="397.38" r="2.45" fill="#744538" stroke="#1e1210" stroke-width="0.7"/>
<polygon points="203.90,381.73 208.50,381.73 206.20,385.98" fill="#62a0e0" stroke="#1b2a3a" stroke-width="0.7"/>
<polygon points="203.90,394.89 208.50,394.89 206.20,399.15" fill="#c29486" stroke="#2a1a16" stroke-width="0.7"/>
<path d="M204.20 382.56L208.20 386.56M204.20 386.56L208.20 382.56" stroke="#9cc6f0" stroke-width="0.8" fill="none"/>
<path d="M204.20 395.73L208.20 399.73M204.20 399.73L208.20 395.73" stroke="#e6c2a6" stroke-width="0.8" fill="none"/>
<polyline points="60.30,246.78 64.38,269.59 69.05,291.53 89.48,327.52 118.66,356.65 147.84,362.80 177.02,377.01 188.70,379.30 206.20,378.42" fill="none" stroke="#3a7cc2" stroke-width="1.15" stroke-dasharray="3.2 1.8"/>
<polyline points="60.30,246.78 64.38,271.35 69.05,292.41 89.48,343.31 118.66,374.03 147.84,384.04 177.02,392.81 188.70,394.22 206.20,394.74" fill="none" stroke="#8f5c50" stroke-width="1.15" stroke-dasharray="3.2 1.8"/>
<rect x="53.00" y="238.00" width="160.50" height="184.30" fill="none" stroke="#5a5a5a" stroke-width="1"/>
<line x1="60.30" y1="422.30" x2="60.30" y2="424.30" stroke="#444" stroke-width="0.6"/>
<text x="60.30" y="429.80" font-size="5.6" fill="#2a2a2a" text-anchor="middle" >0.0</text>
<line x1="89.48" y1="422.30" x2="89.48" y2="424.30" stroke="#444" stroke-width="0.6"/>
<text x="89.48" y="429.80" font-size="5.6" fill="#2a2a2a" text-anchor="middle" >0.5</text>
<line x1="118.66" y1="422.30" x2="118.66" y2="424.30" stroke="#444" stroke-width="0.6"/>
<text x="118.66" y="429.80" font-size="5.6" fill="#2a2a2a" text-anchor="middle" >1.0</text>
<line x1="147.84" y1="422.30" x2="147.84" y2="424.30" stroke="#444" stroke-width="0.6"/>
<text x="147.84" y="429.80" font-size="5.6" fill="#2a2a2a" text-anchor="middle" >1.5</text>
<line x1="177.02" y1="422.30" x2="177.02" y2="424.30" stroke="#444" stroke-width="0.6"/>
<text x="177.02" y="429.80" font-size="5.6" fill="#2a2a2a" text-anchor="middle" >2.0</text>
<line x1="206.20" y1="422.30" x2="206.20" y2="424.30" stroke="#444" stroke-width="0.6"/>
<text x="206.20" y="429.80" font-size="5.6" fill="#2a2a2a" text-anchor="middle" >2.5</text>
<line x1="51.00" y1="422.30" x2="53.00" y2="422.30" stroke="#444" stroke-width="0.6"/>
<text x="49.20" y="424.30" font-size="5.6" fill="#2a2a2a" text-anchor="end" >0.0</text>
<line x1="51.00" y1="387.20" x2="53.00" y2="387.20" stroke="#444" stroke-width="0.6"/>
<text x="49.20" y="389.20" font-size="5.6" fill="#2a2a2a" text-anchor="end" >0.2</text>
<line x1="51.00" y1="352.09" x2="53.00" y2="352.09" stroke="#444" stroke-width="0.6"/>
<text x="49.20" y="354.09" font-size="5.6" fill="#2a2a2a" text-anchor="end" >0.4</text>
<line x1="51.00" y1="316.99" x2="53.00" y2="316.99" stroke="#444" stroke-width="0.6"/>
<text x="49.20" y="318.99" font-size="5.6" fill="#2a2a2a" text-anchor="end" >0.6</text>
<line x1="51.00" y1="281.88" x2="53.00" y2="281.88" stroke="#444" stroke-width="0.6"/>
<text x="49.20" y="283.88" font-size="5.6" fill="#2a2a2a" text-anchor="end" >0.8</text>
<line x1="51.00" y1="246.78" x2="53.00" y2="246.78" stroke="#444" stroke-width="0.6"/>
<text x="49.20" y="248.78" font-size="5.6" fill="#2a2a2a" text-anchor="end" >1.0</text>
<text x="133.25" y="235.30" font-size="8.6" fill="#1a1a1a" text-anchor="middle" textLength="36.0" lengthAdjust="spacingAndGlyphs" stroke="#1a1a1a" stroke-width="0.15">VERDICT</text>
<text x="130.30" y="250.00" font-size="7.7" fill="#3e7fbf" text-anchor="start" textLength="73.0" lengthAdjust="spacingAndGlyphs" >MSE Cancer: 0.0063</text>
<text x="130.30" y="260.70" font-size="7.7" fill="#8a5a50" text-anchor="start" textLength="73.6" lengthAdjust="spacingAndGlyphs" >MSE Normal: 0.0055</text>
<text x="133.25" y="439.60" font-size="9.2" fill="#1a1a1a" stroke="#1a1a1a" stroke-width="0.15" text-anchor="middle" textLength="30.4" lengthAdjust="spacingAndGlyphs"><tspan font-style="italic">b</tspan>-value</text>
<text transform="translate(36.20,330.15) rotate(-90)" font-size="8.6" fill="#1a1a1a" text-anchor="middle"><tspan font-style="italic">S</tspan>/<tspan font-style="italic">S</tspan><tspan font-size="6" dy="1.6">0</tspan></text>
<line x1="247.60" y1="238.00" x2="247.60" y2="422.30" stroke="#e4e4e4" stroke-width="0.6" stroke-dasharray="1 1.2"/>
<line x1="276.78" y1="238.00" x2="276.78" y2="422.30" stroke="#e4e4e4" stroke-width="0.6" stroke-dasharray="1 1.2"/>
<line x1="305.96" y1="238.00" x2="305.96" y2="422.30" stroke="#e4e4e4" stroke-width="0.6" stroke-dasharray="1 1.2"/>
<line x1="335.14" y1="238.00" x2="335.14" y2="422.30" stroke="#e4e4e4" stroke-width="0.6" stroke-dasharray="1 1.2"/>
<line x1="364.32" y1="238.00" x2="364.32" y2="422.30" stroke="#e4e4e4" stroke-width="0.6" stroke-dasharray="1 1.2"/>
<line x1="393.50" y1="238.00" x2="393.50" y2="422.30" stroke="#e4e4e4" stroke-width="0.6" stroke-dasharray="1 1.2"/>
<line x1="240.30" y1="387.20" x2="400.80" y2="387.20" stroke="#e4e4e4" stroke-width="0.6" stroke-dasharray="1 1.2"/>
<line x1="240.30" y1="352.09" x2="400.80" y2="352.09" stroke="#e4e4e4" stroke-width="0.6" stroke-dasharray="1 1.2"/>
<line x1="240.30" y1="316.99" x2="400.80" y2="316.99" stroke="#e4e4e4" stroke-width="0.6" stroke-dasharray="1 1.2"/>
<line x1="240.30" y1="281.88" x2="400.80" y2="281.88" stroke="#e4e4e4" stroke-width="0.6" stroke-dasharray="1 1.2"/>
<line x1="240.30" y1="246.78" x2="400.80" y2="246.78" stroke="#e4e4e4" stroke-width="0.6" stroke-dasharray="1 1.2"/>
<circle cx="251.68" cy="292.41" r="2.45" fill="#3f7fc4" stroke="#1b2a3a" stroke-width="0.7"/>
<circle cx="251.68" cy="298.38" r="2.45" fill="#744538" stroke="#1e1210" stroke-width="0.7"/>
<polygon points="249.38,285.19 253.98,285.19 251.68,289.45" fill="#62a0e0" stroke="#1b2a3a" stroke-width="0.7"/>
<polygon points="249.38,274.31 253.98,274.31 251.68,278.56" fill="#c29486" stroke="#2a1a16" stroke-width="0.7"/>
<path d="M249.68 283.39L253.68 287.39M249.68 287.39L253.68 283.39" stroke="#9cc6f0" stroke-width="0.8" fill="none"/>
<path d="M249.68 278.13L253.68 282.13M249.68 282.13L253.68 278.13" stroke="#e6c2a6" stroke-width="0.8" fill="none"/>
<circle cx="256.35" cy="309.96" r="2.45" fill="#3f7fc4" stroke="#1b2a3a" stroke-width="0.7"/>
<circle cx="256.35" cy="321.55" r="2.45" fill="#744538" stroke="#1e1210" stroke-width="0.7"/>
<polygon points="254.05,298.36 258.65,298.36 256.35,302.61" fill="#62a0e0" stroke="#1b2a3a" stroke-width="0.7"/>
<polygon points="254.05,297.48 258.65,297.48 256.35,301.73" fill="#c29486" stroke="#2a1a16" stroke-width="0.7"/>
<path d="M254.35 299.19L258.35 303.19M254.35 303.19L258.35 299.19" stroke="#9cc6f0" stroke-width="0.8" fill="none"/>
<path d="M254.35 302.00L258.35 306.00M254.35 306.00L258.35 302.00" stroke="#e6c2a6" stroke-width="0.8" fill="none"/>
<circle cx="276.78" cy="346.47" r="2.45" fill="#3f7fc4" stroke="#1b2a3a" stroke-width="0.7"/>
<circle cx="276.78" cy="358.06" r="2.45" fill="#744538" stroke="#1e1210" stroke-width="0.7"/>
<polygon points="274.48,340.83 279.08,340.83 276.78,345.09" fill="#62a0e0" stroke="#1b2a3a" stroke-width="0.7"/>
<polygon points="274.48,354.70 279.08,354.70 276.78,358.95" fill="#c29486" stroke="#2a1a16" stroke-width="0.7"/>
<path d="M274.78 343.07L278.78 347.07M274.78 347.07L278.78 343.07" stroke="#9cc6f0" stroke-width="0.8" fill="none"/>
<path d="M274.78 361.32L278.78 365.32M274.78 365.32L278.78 361.32" stroke="#e6c2a6" stroke-width="0.8" fill="none"/>
<circle cx="305.96" cy="374.73" r="2.45" fill="#3f7fc4" stroke="#1b2a3a" stroke-width="0.7"/>
<circle cx="305.96" cy="389.83" r="2.45" fill="#744538" stroke="#1e1210" stroke-width="0.7"/>
<polygon points="303.66,371.20 308.26,371.20 305.96,375.45" fill="#62a0e0" stroke="#1b2a3a" stroke-width="0.7"/>
<polygon points="303.66,387.00 308.26,387.00 305.96,391.25" fill="#c29486" stroke="#2a1a16" stroke-width="0.7"/>
<path d="M303.96 372.91L307.96 376.91M303.96 376.91L307.96 372.91" stroke="#9cc6f0" stroke-width="0.8" fill="none"/>
<path d="M303.96 388.71L307.96 392.71M303.96 392.71L307.96 388.71" stroke="#e6c2a6" stroke-width="0.8" fill="none"/>
<circle cx="335.14" cy="365.43" r="2.45" fill="#3f7fc4" stroke="#1b2a3a" stroke-width="0.7"/>
<circle cx="335.14" cy="384.04" r="2.45" fill="#744538" stroke="#1e1210" stroke-width="0.7"/>
<polygon points="332.84,362.42 337.44,362.42 335.14,366.68" fill="#62a0e0" stroke="#1b2a3a" stroke-width="0.7"/>
<polygon points="332.84,381.38 337.44,381.38 335.14,385.63" fill="#c29486" stroke="#2a1a16" stroke-width="0.7"/>
<path d="M333.14 364.13L337.14 368.13M333.14 368.13L337.14 364.13" stroke="#9cc6f0" stroke-width="0.8" fill="none"/>
<path d="M333.14 382.56L337.14 386.56M333.14 386.56L337.14 382.56" stroke="#e6c2a6" stroke-width="0.8" fill="none"/>
<circle cx="364.32" cy="387.55" r="2.45" fill="#3f7fc4" stroke="#1b2a3a" stroke-width="0.7"/>
<circle cx="364.32" cy="400.36" r="2.45" fill="#744538" stroke="#1e1210" stroke-width="0.7"/>
<polygon points="362.02,384.36 366.62,384.36 364.32,388.62" fill="#62a0e0" stroke="#1b2a3a" stroke-width="0.7"/>
<polygon points="362.02,397.88 366.62,397.88 364.32,402.13" fill="#c29486" stroke="#2a1a16" stroke-width="0.7"/>
<path d="M362.32 385.20L366.32 389.20M362.32 389.20L366.32 385.20" stroke="#9cc6f0" stroke-width="0.8" fill="none"/>
<path d="M362.32 398.89L366.32 402.89M362.32 402.89L366.32 398.89" stroke="#e6c2a6" stroke-width="0.8" fill="none"/>
<circle cx="376.00" cy="389.83" r="2.45" fill="#3f7fc4" stroke="#1b2a3a" stroke-width="0.7"/>
<circle cx="376.00" cy="401.41" r="2.45" fill="#744538" stroke="#1e1210" stroke-width="0.7"/>
<polygon points="373.70,387.00 378.30,387.00 376.00,391.25" fill="#62a0e0" stroke="#1b2a3a" stroke-width="0.7"/>
<polygon points="373.70,398.93 378.30,398.93 376.00,403.19" fill="#c29486" stroke="#2a1a16" stroke-width="0.7"/>
<path d="M374.00 387.83L378.00 391.83M374.00 391.83L378.00 387.83" stroke="#9cc6f0" stroke-width="0.8" fill="none"/>
<path d="M374.00 399.94L378.00 403.94M374.00 403.94L378.00 399.94" stroke="#e6c2a6" stroke-width="0.8" fill="none"/>
<circle cx="393.50" cy="384.56" r="2.45" fill="#3f7fc4" stroke="#1b2a3a" stroke-width="0.7"/>
<circle cx="393.50" cy="397.38" r="2.45" fill="#744538" stroke="#1e1210" stroke-width="0.7"/>
<polygon points="391.20,381.73 395.80,381.73 393.50,385.98" fill="#62a0e0" stroke="#1b2a3a" stroke-width="0.7"/>
<polygon points="391.20,394.89 395.80,394.89 393.50,399.15" fill="#c29486" stroke="#2a1a16" stroke-width="0.7"/>
<path d="M391.50 382.56L395.50 386.56M391.50 386.56L395.50 382.56" stroke="#9cc6f0" stroke-width="0.8" fill="none"/>
<path d="M391.50 395.73L395.50 399.73M391.50 399.73L395.50 395.73" stroke="#e6c2a6" stroke-width="0.8" fill="none"/>
<polyline points="247.60,246.78 251.68,255.55 256.35,266.08 276.78,302.59 305.96,337.17 335.14,360.87 364.32,375.44 376.00,379.30 393.50,383.86" fill="none" stroke="#3a7cc2" stroke-width="1.15" stroke-dasharray="3.2 1.8"/>
<polyline points="247.60,246.78 251.68,257.31 256.35,271.35 276.78,312.95 305.96,349.63 335.14,374.56 364.32,388.77 376.00,392.46 393.50,398.25" fill="none" stroke="#8f5c50" stroke-width="1.15" stroke-dasharray="3.2 1.8"/>
<rect x="240.30" y="238.00" width="160.50" height="184.30" fill="none" stroke="#5a5a5a" stroke-width="1"/>
<line x1="247.60" y1="422.30" x2="247.60" y2="424.30" stroke="#444" stroke-width="0.6"/>
<text x="247.60" y="429.80" font-size="5.6" fill="#2a2a2a" text-anchor="middle" >0.0</text>
<line x1="276.78" y1="422.30" x2="276.78" y2="424.30" stroke="#444" stroke-width="0.6"/>
<text x="276.78" y="429.80" font-size="5.6" fill="#2a2a2a" text-anchor="middle" >0.5</text>
<line x1="305.96" y1="422.30" x2="305.96" y2="424.30" stroke="#444" stroke-width="0.6"/>
<text x="305.96" y="429.80" font-size="5.6" fill="#2a2a2a" text-anchor="middle" >1.0</text>
<line x1="335.14" y1="422.30" x2="335.14" y2="424.30" stroke="#444" stroke-width="0.6"/>
<text x="335.14" y="429.80" font-size="5.6" fill="#2a2a2a" text-anchor="middle" >1.5</text>
<line x1="364.32" y1="422.30" x2="364.32" y2="424.30" stroke="#444" stroke-width="0.6"/>
<text x="364.32" y="429.80" font-size="5.6" fill="#2a2a2a" text-anchor="middle" >2.0</text>
<line x1="393.50" y1="422.30" x2="393.50" y2="424.30" stroke="#444" stroke-width="0.6"/>
<text x="393.50" y="429.80" font-size="5.6" fill="#2a2a2a" text-anchor="middle" >2.5</text>
<line x1="238.30" y1="422.30" x2="240.30" y2="422.30" stroke="#444" stroke-width="0.6"/>
<text x="236.50" y="424.30" font-size="5.6" fill="#2a2a2a" text-anchor="end" >0.0</text>
<line x1="238.30" y1="387.20" x2="240.30" y2="387.20" stroke="#444" stroke-width="0.6"/>
<text x="236.50" y="389.20" font-size="5.6" fill="#2a2a2a" text-anchor="end" >0.2</text>
<line x1="238.30" y1="352.09" x2="240.30" y2="352.09" stroke="#444" stroke-width="0.6"/>
<text x="236.50" y="354.09" font-size="5.6" fill="#2a2a2a" text-anchor="end" >0.4</text>
<line x1="238.30" y1="316.99" x2="240.30" y2="316.99" stroke="#444" stroke-width="0.6"/>
<text x="236.50" y="318.99" font-size="5.6" fill="#2a2a2a" text-anchor="end" >0.6</text>
<line x1="238.30" y1="281.88" x2="240.30" y2="281.88" stroke="#444" stroke-width="0.6"/>
<text x="236.50" y="283.88" font-size="5.6" fill="#2a2a2a" text-anchor="end" >0.8</text>
<line x1="238.30" y1="246.78" x2="240.30" y2="246.78" stroke="#444" stroke-width="0.6"/>
<text x="236.50" y="248.78" font-size="5.6" fill="#2a2a2a" text-anchor="end" >1.0</text>
<text x="320.55" y="235.30" font-size="8.6" fill="#1a1a1a" text-anchor="middle" stroke="#1a1a1a" stroke-width="0.15">IVIM</text>
<text x="317.60" y="250.00" font-size="7.7" fill="#3e7fbf" text-anchor="start" textLength="73.0" lengthAdjust="spacingAndGlyphs" >MSE Cancer: 0.0222</text>
<text x="317.60" y="260.70" font-size="7.7" fill="#8a5a50" text-anchor="start" textLength="73.6" lengthAdjust="spacingAndGlyphs" >MSE Normal: 0.0259</text>
<text x="320.55" y="439.60" font-size="9.2" fill="#1a1a1a" stroke="#1a1a1a" stroke-width="0.15" text-anchor="middle" textLength="30.4" lengthAdjust="spacingAndGlyphs"><tspan font-style="italic">b</tspan>-value</text>
<text transform="translate(223.50,330.15) rotate(-90)" font-size="8.6" fill="#1a1a1a" text-anchor="middle"><tspan font-style="italic">S</tspan>/<tspan font-style="italic">S</tspan><tspan font-size="6" dy="1.6">0</tspan></text>
<line x1="434.80" y1="238.00" x2="434.80" y2="422.30" stroke="#e4e4e4" stroke-width="0.6" stroke-dasharray="1 1.2"/>
<line x1="463.98" y1="238.00" x2="463.98" y2="422.30" stroke="#e4e4e4" stroke-width="0.6" stroke-dasharray="1 1.2"/>
<line x1="493.16" y1="238.00" x2="493.16" y2="422.30" stroke="#e4e4e4" stroke-width="0.6" stroke-dasharray="1 1.2"/>
<line x1="522.34" y1="238.00" x2="522.34" y2="422.30" stroke="#e4e4e4" stroke-width="0.6" stroke-dasharray="1 1.2"/>
<line x1="551.52" y1="238.00" x2="551.52" y2="422.30" stroke="#e4e4e4" stroke-width="0.6" stroke-dasharray="1 1.2"/>
<line x1="580.70" y1="238.00" x2="580.70" y2="422.30" stroke="#e4e4e4" stroke-width="0.6" stroke-dasharray="1 1.2"/>
<line x1="427.50" y1="387.20" x2="588.00" y2="387.20" stroke="#e4e4e4" stroke-width="0.6" stroke-dasharray="1 1.2"/>
<line x1="427.50" y1="352.09" x2="588.00" y2="352.09" stroke="#e4e4e4" stroke-width="0.6" stroke-dasharray="1 1.2"/>
<line x1="427.50" y1="316.99" x2="588.00" y2="316.99" stroke="#e4e4e4" stroke-width="0.6" stroke-dasharray="1 1.2"/>
<line x1="427.50" y1="281.88" x2="588.00" y2="281.88" stroke="#e4e4e4" stroke-width="0.6" stroke-dasharray="1 1.2"/>
<line x1="427.50" y1="246.78" x2="588.00" y2="246.78" stroke="#e4e4e4" stroke-width="0.6" stroke-dasharray="1 1.2"/>
<circle cx="438.88" cy="292.41" r="2.45" fill="#3f7fc4" stroke="#1b2a3a" stroke-width="0.7"/>
<circle cx="438.88" cy="298.38" r="2.45" fill="#744538" stroke="#1e1210" stroke-width="0.7"/>
<polygon points="436.58,285.19 441.18,285.19 438.88,289.45" fill="#62a0e0" stroke="#1b2a3a" stroke-width="0.7"/>
<polygon points="436.58,274.31 441.18,274.31 438.88,278.56" fill="#c29486" stroke="#2a1a16" stroke-width="0.7"/>
<path d="M436.88 283.39L440.88 287.39M436.88 287.39L440.88 283.39" stroke="#9cc6f0" stroke-width="0.8" fill="none"/>
<path d="M436.88 278.13L440.88 282.13M436.88 282.13L440.88 278.13" stroke="#e6c2a6" stroke-width="0.8" fill="none"/>
<circle cx="443.55" cy="309.96" r="2.45" fill="#3f7fc4" stroke="#1b2a3a" stroke-width="0.7"/>
<circle cx="443.55" cy="321.55" r="2.45" fill="#744538" stroke="#1e1210" stroke-width="0.7"/>
<polygon points="441.25,298.36 445.85,298.36 443.55,302.61" fill="#62a0e0" stroke="#1b2a3a" stroke-width="0.7"/>
<polygon points="441.25,297.48 445.85,297.48 443.55,301.73" fill="#c29486" stroke="#2a1a16" stroke-width="0.7"/>
<path d="M441.55 299.19L445.55 303.19M441.55 303.19L445.55 299.19" stroke="#9cc6f0" stroke-width="0.8" fill="none"/>
<path d="M441.55 302.00L445.55 306.00M441.55 306.00L445.55 302.00" stroke="#e6c2a6" stroke-width="0.8" fill="none"/>
<circle cx="463.98" cy="346.47" r="2.45" fill="#3f7fc4" stroke="#1b2a3a" stroke-width="0.7"/>
<circle cx="463.98" cy="358.06" r="2.45" fill="#744538" stroke="#1e1210" stroke-width="0.7"/>
<polygon points="461.68,340.83 466.28,340.83 463.98,345.09" fill="#62a0e0" stroke="#1b2a3a" stroke-width="0.7"/>
<polygon points="461.68,354.70 466.28,354.70 463.98,358.95" fill="#c29486" stroke="#2a1a16" stroke-width="0.7"/>
<path d="M461.98 343.07L465.98 347.07M461.98 347.07L465.98 343.07" stroke="#9cc6f0" stroke-width="0.8" fill="none"/>
<path d="M461.98 361.32L465.98 365.32M461.98 365.32L465.98 361.32" stroke="#e6c2a6" stroke-width="0.8" fill="none"/>
<circle cx="493.16" cy="374.73" r="2.45" fill="#3f7fc4" stroke="#1b2a3a" stroke-width="0.7"/>
<circle cx="493.16" cy="389.83" r="2.45" fill="#744538" stroke="#1e1210" stroke-width="0.7"/>
<polygon points="490.86,371.20 495.46,371.20 493.16,375.45" fill="#62a0e0" stroke="#1b2a3a" stroke-width="0.7"/>
<polygon points="490.86,387.00 495.46,387.00 493.16,391.25" fill="#c29486" stroke="#2a1a16" stroke-width="0.7"/>
<path d="M491.16 372.91L495.16 376.91M491.16 376.91L495.16 372.91" stroke="#9cc6f0" stroke-width="0.8" fill="none"/>
<path d="M491.16 388.71L495.16 392.71M491.16 392.71L495.16 388.71" stroke="#e6c2a6" stroke-width="0.8" fill="none"/>
<circle cx="522.34" cy="365.43" r="2.45" fill="#3f7fc4" stroke="#1b2a3a" stroke-width="0.7"/>
<circle cx="522.34" cy="384.04" r="2.45" fill="#744538" stroke="#1e1210" stroke-width="0.7"/>
<polygon points="520.04,362.42 524.64,362.42 522.34,366.68" fill="#62a0e0" stroke="#1b2a3a" stroke-width="0.7"/>
<polygon points="520.04,381.38 524.64,381.38 522.34,385.63" fill="#c29486" stroke="#2a1a16" stroke-width="0.7"/>
<path d="M520.34 364.13L524.34 368.13M520.34 368.13L524.34 364.13" stroke="#9cc6f0" stroke-width="0.8" fill="none"/>
<path d="M520.34 382.56L524.34 386.56M520.34 386.56L524.34 382.56" stroke="#e6c2a6" stroke-width="0.8" fill="none"/>
<circle cx="551.52" cy="387.55" r="2.45" fill="#3f7fc4" stroke="#1b2a3a" stroke-width="0.7"/>
<circle cx="551.52" cy="400.36" r="2.45" fill="#744538" stroke="#1e1210" stroke-width="0.7"/>
<polygon points="549.22,384.36 553.82,384.36 551.52,388.62" fill="#62a0e0" stroke="#1b2a3a" stroke-width="0.7"/>
<polygon points="549.22,397.88 553.82,397.88 551.52,402.13" fill="#c29486" stroke="#2a1a16" stroke-width="0.7"/>
<path d="M549.52 385.20L553.52 389.20M549.52 389.20L553.52 385.20" stroke="#9cc6f0" stroke-width="0.8" fill="none"/>
<path d="M549.52 398.89L553.52 402.89M549.52 402.89L553.52 398.89" stroke="#e6c2a6" stroke-width="0.8" fill="none"/>
<circle cx="563.20" cy="389.83" r="2.45" fill="#3f7fc4" stroke="#1b2a3a" stroke-width="0.7"/>
<circle cx="563.20" cy="401.41" r="2.45" fill="#744538" stroke="#1e1210" stroke-width="0.7"/>
<polygon points="560.90,387.00 565.50,387.00 563.20,391.25" fill="#62a0e0" stroke="#1b2a3a" stroke-width="0.7"/>
<polygon points="560.90,398.93 565.50,398.93 563.20,403.19" fill="#c29486" stroke="#2a1a16" stroke-width="0.7"/>
<path d="M561.20 387.83L565.20 391.83M561.20 391.83L565.20 387.83" stroke="#9cc6f0" stroke-width="0.8" fill="none"/>
<path d="M561.20 399.94L565.20 403.94M561.20 403.94L565.20 399.94" stroke="#e6c2a6" stroke-width="0.8" fill="none"/>
<circle cx="580.70" cy="384.56" r="2.45" fill="#3f7fc4" stroke="#1b2a3a" stroke-width="0.7"/>
<circle cx="580.70" cy="397.38" r="2.45" fill="#744538" stroke="#1e1210" stroke-width="0.7"/>
<polygon points="578.40,381.73 583.00,381.73 580.70,385.98" fill="#62a0e0" stroke="#1b2a3a" stroke-width="0.7"/>
<polygon points="578.40,394.89 583.00,394.89 580.70,399.15" fill="#c29486" stroke="#2a1a16" stroke-width="0.7"/>
<path d="M578.70 382.56L582.70 386.56M578.70 386.56L582.70 382.56" stroke="#9cc6f0" stroke-width="0.8" fill="none"/>
<path d="M578.70 395.73L582.70 399.73M578.70 399.73L582.70 395.73" stroke="#e6c2a6" stroke-width="0.8" fill="none"/>
<polyline points="434.80,246.78 438.88,266.08 443.55,287.15 463.98,348.40 493.16,389.83 522.34,405.63 551.52,413.52 563.20,415.81 580.70,417.21" fill="none" stroke="#3a7cc2" stroke-width="1.15" stroke-dasharray="3.2 1.8"/>
<polyline points="434.80,246.78 438.88,273.10 443.55,299.43 463.98,366.31 493.16,403.87 522.34,415.63 551.52,420.02 563.20,420.72 580.70,421.42" fill="none" stroke="#8f5c50" stroke-width="1.15" stroke-dasharray="3.2 1.8"/>
<rect x="427.50" y="238.00" width="160.50" height="184.30" fill="none" stroke="#5a5a5a" stroke-width="1"/>
<line x1="434.80" y1="422.30" x2="434.80" y2="424.30" stroke="#444" stroke-width="0.6"/>
<text x="434.80" y="429.80" font-size="5.6" fill="#2a2a2a" text-anchor="middle" >0.0</text>
<line x1="463.98" y1="422.30" x2="463.98" y2="424.30" stroke="#444" stroke-width="0.6"/>
<text x="463.98" y="429.80" font-size="5.6" fill="#2a2a2a" text-anchor="middle" >0.5</text>
<line x1="493.16" y1="422.30" x2="493.16" y2="424.30" stroke="#444" stroke-width="0.6"/>
<text x="493.16" y="429.80" font-size="5.6" fill="#2a2a2a" text-anchor="middle" >1.0</text>
<line x1="522.34" y1="422.30" x2="522.34" y2="424.30" stroke="#444" stroke-width="0.6"/>
<text x="522.34" y="429.80" font-size="5.6" fill="#2a2a2a" text-anchor="middle" >1.5</text>
<line x1="551.52" y1="422.30" x2="551.52" y2="424.30" stroke="#444" stroke-width="0.6"/>
<text x="551.52" y="429.80" font-size="5.6" fill="#2a2a2a" text-anchor="middle" >2.0</text>
<line x1="580.70" y1="422.30" x2="580.70" y2="424.30" stroke="#444" stroke-width="0.6"/>
<text x="580.70" y="429.80" font-size="5.6" fill="#2a2a2a" text-anchor="middle" >2.5</text>
<line x1="425.50" y1="422.30" x2="427.50" y2="422.30" stroke="#444" stroke-width="0.6"/>
<text x="423.70" y="424.30" font-size="5.6" fill="#2a2a2a" text-anchor="end" >0.0</text>
<line x1="425.50" y1="387.20" x2="427.50" y2="387.20" stroke="#444" stroke-width="0.6"/>
<text x="423.70" y="389.20" font-size="5.6" fill="#2a2a2a" text-anchor="end" >0.2</text>
<line x1="425.50" y1="352.09" x2="427.50" y2="352.09" stroke="#444" stroke-width="0.6"/>
<text x="423.70" y="354.09" font-size="5.6" fill="#2a2a2a" text-anchor="end" >0.4</text>
<line x1="425.50" y1="316.99" x2="427.50" y2="316.99" stroke="#444" stroke-width="0.6"/>
<text x="423.70" y="318.99" font-size="5.6" fill="#2a2a2a" text-anchor="end" >0.6</text>
<line x1="425.50" y1="281.88" x2="427.50" y2="281.88" stroke="#444" stroke-width="0.6"/>
<text x="423.70" y="283.88" font-size="5.6" fill="#2a2a2a" text-anchor="end" >0.8</text>
<line x1="425.50" y1="246.78" x2="427.50" y2="246.78" stroke="#444" stroke-width="0.6"/>
<text x="423.70" y="248.78" font-size="5.6" fill="#2a2a2a" text-anchor="end" >1.0</text>
<text x="507.75" y="235.30" font-size="8.6" fill="#1a1a1a" text-anchor="middle" stroke="#1a1a1a" stroke-width="0.15">ADC</text>
<text x="504.80" y="250.00" font-size="7.7" fill="#3e7fbf" text-anchor="start" textLength="73.0" lengthAdjust="spacingAndGlyphs" >MSE Cancer: 0.0175</text>
<text x="504.80" y="260.70" font-size="7.7" fill="#8a5a50" text-anchor="start" textLength="73.6" lengthAdjust="spacingAndGlyphs" >MSE Normal: 0.0105</text>
<text x="507.75" y="439.60" font-size="9.2" fill="#1a1a1a" stroke="#1a1a1a" stroke-width="0.15" text-anchor="middle" textLength="30.4" lengthAdjust="spacingAndGlyphs"><tspan font-style="italic">b</tspan>-value</text>
<text transform="translate(410.70,330.15) rotate(-90)" font-size="8.6" fill="#1a1a1a" text-anchor="middle"><tspan font-style="italic">S</tspan>/<tspan font-style="italic">S</tspan><tspan font-size="6" dy="1.6">0</tspan></text>
<rect x="598.6" y="241.30" width="79.6" height="50.20" rx="1.6" fill="#fff" stroke="#e2e2e2" stroke-width="0.8"/>
<circle cx="607.60" cy="246.90" r="2.4" fill="#7a4a3e" stroke="#2a1a16" stroke-width="0.7"/>
<polygon points="605.00,254.39 610.20,254.39 607.60,259.20" fill="#b58a7c" stroke="#2a1a16" stroke-width="0.7"/>
<path d="M605.60 264.70L609.60 268.70M605.60 268.70L609.60 264.70" stroke="#e6c2a6" stroke-width="0.8" fill="none"/>
<line x1="601.3" y1="276.10" x2="614.3" y2="276.10" stroke="#3a7cc2" stroke-width="1.15" stroke-dasharray="3.2 1.8"/>
<line x1="601.3" y1="285.90" x2="614.3" y2="285.90" stroke="#8f5c50" stroke-width="1.15" stroke-dasharray="3.2 1.8"/>
<text x="619.00" y="249.20" font-size="7.6" fill="#111" text-anchor="start" textLength="13.6" lengthAdjust="spacingAndGlyphs" stroke="#111" stroke-width="0.12">x-dir</text>
<text x="619.00" y="258.90" font-size="7.6" fill="#111" text-anchor="start" textLength="13.6" lengthAdjust="spacingAndGlyphs" stroke="#111" stroke-width="0.12">y-dir</text>
<text x="619.00" y="269.00" font-size="7.6" fill="#111" text-anchor="start" textLength="13.2" lengthAdjust="spacingAndGlyphs" stroke="#111" stroke-width="0.12">z-dir</text>
<text x="619.00" y="278.40" font-size="7.6" fill="#111" text-anchor="start" textLength="56.3" lengthAdjust="spacingAndGlyphs" stroke="#111" stroke-width="0.12">Tumour Prediction</text>
<text x="619.00" y="288.20" font-size="7.6" fill="#111" text-anchor="start" textLength="55.5" lengthAdjust="spacingAndGlyphs" stroke="#111" stroke-width="0.12">Normal Prediction</text>
<text transform="translate(18.3,115.1) rotate(-90)" font-size="12.5" fill="#111" stroke="#111" stroke-width="0.32" text-anchor="middle" textLength="99.4" lengthAdjust="spacingAndGlyphs">High-grade uRCC</text>
<text transform="translate(18.3,334.5) rotate(-90)" font-size="12.5" fill="#111" stroke="#111" stroke-width="0.32" text-anchor="middle" textLength="74" lengthAdjust="spacingAndGlyphs">Oncocytoma</text>
<rect x="680.2" y="441.2" width="3.8" height="4.6" fill="#e4e4e4"/>
</svg>
</body></html>
